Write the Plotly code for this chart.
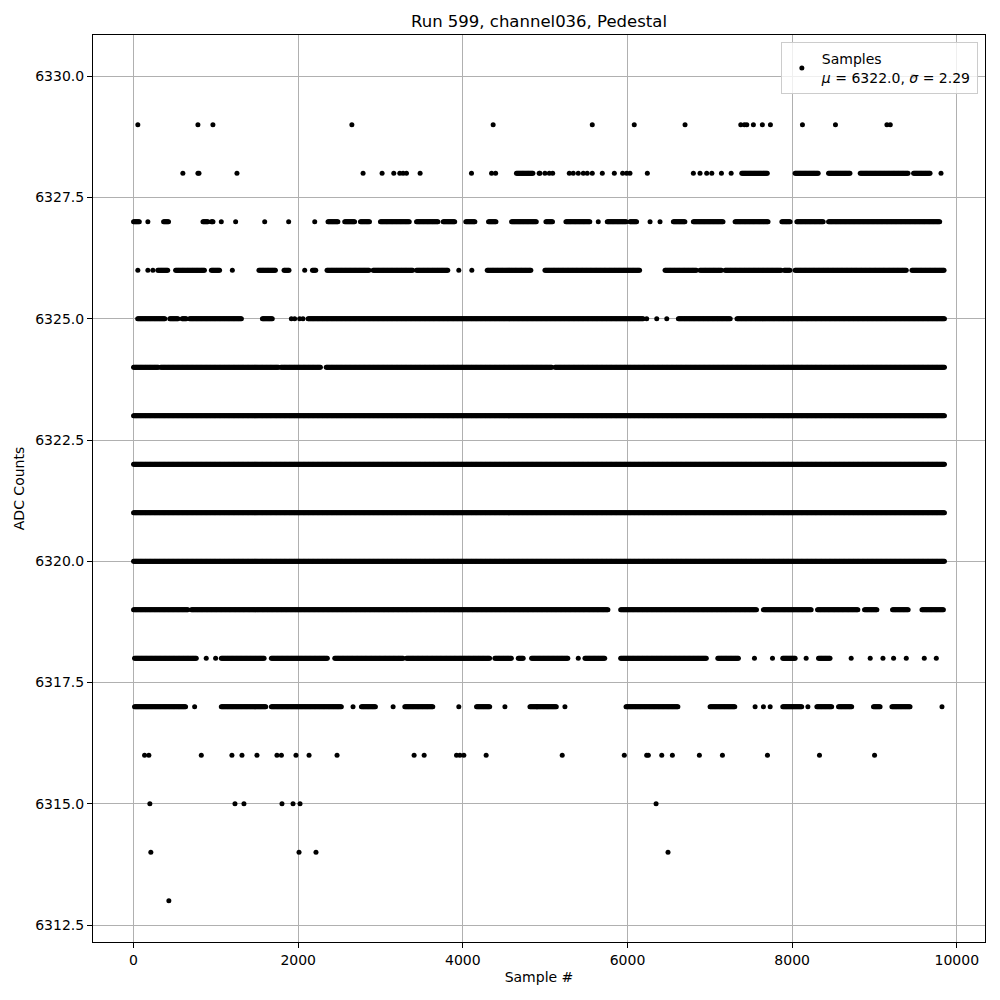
import plotly.graph_objects as go

# ---- data (sample # positions for each ADC level) ----
# dense levels given as runs [start, end] of sample numbers
runs_6320 = [[0, 9850]]
runs_6321 = [[0, 9850]]
runs_6322 = [[0, 9850]]
runs_6323 = [[0, 9850]]
runs_6324 = [[0, 300], [330, 1760], [1790, 2270], [2340, 5080], [5120, 9850]]
runs_6325 = [[50, 380], [440, 540], [590, 640], [680, 1310], [1565, 1690], [2120, 6190],
             [6618, 7250], [7330, 9850]]
runs_6326 = [[295, 417], [511, 863], [945, 1046], [1523, 1726], [1828, 1897], [2173, 2213],
             [2350, 2869], [2910, 3396], [3437, 3822], [4296, 4835], [4997, 6152], [6456, 6841],
             [6881, 7145], [7186, 7875], [7903, 7976], [8036, 9394], [9455, 9850]]
runs_6327 = [[0, 73], [365, 429], [843, 903], [945, 973], [2362, 2484], [2565, 2687], [2756, 2869],
             [2999, 3356], [3437, 3700], [3761, 3903], [4036, 4146], [4312, 4409], [4592, 4896],
             [5009, 5098], [5252, 5544], [5754, 5990], [6030, 6112], [6557, 6699], [6800, 7165],
             [7307, 7712], [7875, 7976], [8057, 8381], [8442, 9800]]
runs_6328 = [[4651, 4860], [7388, 7700], [8036, 8320], [8442, 8705], [8827, 9414], [9475, 9678]]
runs_6319 = [[0, 660], [702, 5767], [5917, 7571], [7651, 8239], [8308, 8806], [8879, 9030],
             [9219, 9414], [9577, 9840]]
runs_6318 = [[12, 770], [1066, 1593], [1674, 2362], [2444, 3274], [3315, 4328], [4389, 4592],
             [4673, 4733], [4835, 5280], [5483, 5726], [5917, 6962], [7097, 7347], [7886, 8036],
             [8320, 8462]]
runs_6317 = [[12, 641], [1066, 1613], [1674, 2525], [2768, 2942], [3295, 3640], [4166, 4328],
             [4815, 5139], [5982, 6618], [7003, 7307], [7886, 8117], [8300, 8482], [8563, 8725],
             [8988, 9070], [9212, 9435]]

# isolated samples
samples_6325 = [1917, 1957, 2018, 2058, 6233, 6355, 6477]
samples_6326 = [52, 174, 235, 1200, 2079, 3951, 4109]
samples_6327 = [174, 1066, 1240, 1593, 1884, 2201, 5645, 6274, 6395]
samples_6328 = [599, 782, 795, 1256, 2788, 3019, 3161, 3234, 3274, 3315, 3481, 4105, 4349, 4398,
                4927, 4936, 4997, 5050, 5091, 5293, 5341, 5402, 5463, 5511, 5572, 5694, 5840,
                5941, 5990, 6030, 6241, 6800, 6881, 6962, 7024, 7141, 7259, 9808]
samples_6329 = [52, 782, 964, 2652, 4368, 5572, 6082, 6699, 7376, 7420, 7449, 7529, 7638, 7736,
                8125, 8526, 9151, 9192]
samples_6330 = [9471]
samples_6318 = [883, 997, 5402, 7542, 7761, 8170, 8717, 8948, 9103, 9232, 9386, 9605, 9751]
samples_6317 = [742, 2666, 3153, 3951, 4511, 4900, 5240, 7550, 7651, 7733, 8191, 9820]
samples_6316 = [134, 186, 823, 1195, 1317, 1499, 1742, 1796, 1973, 2132, 2472, 3408, 3530, 3923,
                3964, 4012, 4283, 5207, 5961, 6233, 6253, 6416, 6545, 6873, 7153, 7700, 8332, 9001]
samples_6315 = [198, 1232, 1341, 1803, 1937, 2022, 6347]
samples_6314 = [210, 2010, 2216, 6492]
samples_6313 = [429]

run_table = {6317: runs_6317, 6318: runs_6318, 6319: runs_6319, 6320: runs_6320,
             6321: runs_6321, 6322: runs_6322, 6323: runs_6323, 6324: runs_6324,
             6325: runs_6325, 6326: runs_6326, 6327: runs_6327, 6328: runs_6328}
sample_table = {6313: samples_6313, 6314: samples_6314, 6315: samples_6315, 6316: samples_6316,
                6317: samples_6317, 6318: samples_6318, 6325: samples_6325, 6326: samples_6326,
                6327: samples_6327, 6328: samples_6328, 6329: samples_6329, 6330: samples_6330}

STEP = 10
xs, ys = [], []
for level, runs in run_table.items():
    for a, b in runs:
        for s in range(a, b + 1, STEP):
            xs.append(s)
            ys.append(level)
for level, pts in sample_table.items():
    for s in pts:
        xs.append(s)
        ys.append(level)

mu, sigma = 6322.0, 2.29
title_text = "Run 599, channel036, Pedestal"
x_ticks = [0, 2000, 4000, 6000, 8000, 10000]
y_ticks = [6312.5, 6315.0, 6317.5, 6320.0, 6322.5, 6325.0, 6327.5, 6330.0]

fig = go.Figure()
fig.add_trace(go.Scatter(
    x=xs, y=ys, mode="markers",
    marker=dict(color="black", size=5, line=dict(width=0)),
    name=f"Samples<br><i>μ</i> = {mu:.1f}, <i>σ</i> = {sigma:.2f}",
    showlegend=True,
))

font = "DejaVu Sans, Liberation Sans, sans-serif"
axis_common = dict(
    showline=True, linecolor="black", linewidth=1, mirror=True,
    ticks="outside", ticklen=5, tickcolor="black", tickwidth=1,
    showgrid=True, gridcolor="#b0b0b0", gridwidth=1, zeroline=False,
    tickfont=dict(family=font, size=14, color="black"),
)

fig.update_layout(
    width=984, height=984,
    plot_bgcolor="white", paper_bgcolor="white",
    margin=dict(l=85, r=7, t=27, b=50),
    title=dict(text=title_text, x=0.5, xref="paper", y=1 - 13 / 984, yref="container",
               xanchor="center", yanchor="middle",
               font=dict(family=font, size=16.5, color="black")),
    xaxis=dict(range=[-492.5, 10342.5], tickvals=x_ticks,
               ticktext=[str(v) for v in x_ticks],
               title=dict(text="Sample #", font=dict(family=font, size=14, color="black"),
                          standoff=5),
               **axis_common),
    yaxis=dict(range=[6312.15, 6330.85], tickvals=y_ticks,
               ticktext=[f"{v:.1f}" for v in y_ticks],
               title=dict(text="ADC Counts", font=dict(family=font, size=14, color="black"),
                          standoff=7),
               **axis_common),
    legend=dict(x=0.992, y=0.992, xanchor="right", yanchor="top",
                bgcolor="rgba(255,255,255,0.8)", bordercolor="#cccccc", borderwidth=1,
                font=dict(family=font, size=14, color="black")),
    showlegend=True,
)

fig.write_html("out.html")
